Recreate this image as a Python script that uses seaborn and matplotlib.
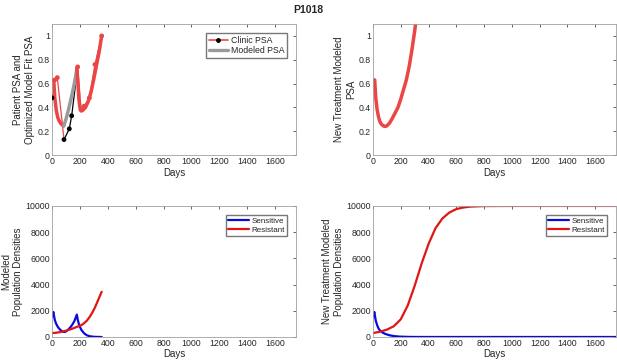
import numpy as np
import pandas as pd
import matplotlib
matplotlib.use('Agg')
import matplotlib.pyplot as plt
from matplotlib.lines import Line2D
import seaborn as sns

# Clinic PSA (treatment on = black, off = red)
clinic_days = [0, 19, 38, 86, 124, 141, 184, 208, 230, 268, 308, 356]
clinic_psa = [0.48, 0.63, 0.65, 0.13, 0.22, 0.33, 0.74, 0.38, 0.41, 0.48, 0.76, 1.00]
clinic_on = [1, 0, 0, 1, 1, 1, 0, 0, 0, 0, 0, 0]

# Modeled PSA, fitted
fit_gray0_days = [0, 4, 8]
fit_gray0_psa = [0.52, 0.56, 0.60]
fit_red1_days = [8, 12, 15, 20, 30, 40, 50, 60, 70, 84]
fit_red1_psa = [0.60, 0.63, 0.58, 0.48, 0.38, 0.32, 0.29, 0.27, 0.255, 0.245]
fit_gray_days = [84, 100, 120, 140, 160, 178]
fit_gray_psa = [0.245, 0.30, 0.39, 0.49, 0.60, 0.72]
fit_red2_days = [178, 185, 192, 200, 210, 220, 240, 260, 280, 300, 320, 340, 356]
fit_red2_psa = [0.73, 0.62, 0.48, 0.40, 0.37, 0.375, 0.40, 0.45, 0.53, 0.64, 0.76, 0.88, 1.00]

# New treatment modeled PSA
new_days = [0, 5, 12, 15, 20, 30, 40, 50, 60, 75, 85, 100, 120, 140, 160, 180, 200, 220,
            240, 260, 280, 300, 310]
new_psa = [0.55, 0.60, 0.63, 0.58, 0.48, 0.38, 0.32, 0.28, 0.26, 0.245, 0.24, 0.245, 0.27,
           0.31, 0.355, 0.40, 0.47, 0.55, 0.63, 0.74, 0.88, 1.04, 1.13]

# Modeled populations (fitted treatment)
pop_sens_days = [0, 5, 10, 13, 20, 30, 40, 50, 60, 70, 80, 90, 100, 120, 140, 160, 178, 185,
                 195, 210, 230, 250, 270, 300, 330, 356]
pop_sens = [1530, 1750, 1910, 1700, 1300, 1000, 800, 650, 540, 460, 400, 380, 420, 600, 850,
            1200, 1710, 1300, 900, 550, 280, 130, 60, 15, 3, 0]
pop_res_days = [0, 25, 50, 75, 100, 125, 150, 175, 190, 210, 230, 250, 270, 290, 310, 330, 356]
pop_res = [300, 320, 360, 410, 480, 560, 650, 760, 820, 900, 1050, 1250, 1530, 1880, 2300,
           2800, 3450]

# New treatment populations
new_sens_days = [0, 5, 10, 13, 20, 30, 40, 50, 70, 90, 120, 150, 190, 250, 300, 400, 1750]
new_sens = [1530, 1750, 1910, 1700, 1250, 900, 650, 500, 330, 230, 130, 70, 30, 8, 2, 0, 0]
new_res_days = [0, 50, 100, 150, 200, 250, 300, 350, 400, 450, 500, 550, 600, 650, 700, 800,
                1000, 1750]
new_res = [300, 400, 560, 820, 1350, 2400, 3900, 5600, 7100, 8300, 9050, 9500, 9760, 9880,
           9950, 9990, 10000, 10000]

xticks = [0, 200, 400, 600, 800, 1000, 1200, 1400, 1600]

sns.set_style("white")
plt.rcParams['font.family'] = ['Liberation Sans', 'DejaVu Sans']

RED_PSA = '#ec4545'
GRAY = '#9a9a9a'
BLUE = '#0a0ae0'
RED = '#e01515'

fig = plt.figure(figsize=(6.17, 3.64), dpi=100)
ax1 = fig.add_axes([0.0843, 0.574, 0.3955, 0.36])
ax2 = fig.add_axes([0.6045, 0.574, 0.394, 0.36])
ax3 = fig.add_axes([0.0843, 0.0742, 0.3955, 0.36])
ax4 = fig.add_axes([0.6045, 0.0742, 0.394, 0.36])


def seg(ax, x, y, color, lw):
    sns.lineplot(x=x, y=y, ax=ax, color=color, linewidth=lw, sort=False, estimator=None)


# Panel 1: clinic data and fit
for i in range(len(clinic_days) - 1):
    c = 'black' if clinic_on[i] else RED_PSA
    seg(ax1, clinic_days[i:i + 2], clinic_psa[i:i + 2], c, 0.9)
seg(ax1, fit_gray0_days, fit_gray0_psa, GRAY, 2.5)
seg(ax1, fit_red1_days, fit_red1_psa, RED_PSA, 2.5)
seg(ax1, fit_gray_days, fit_gray_psa, GRAY, 2.5)
seg(ax1, fit_red2_days, fit_red2_psa, RED_PSA, 2.5)
pts = pd.DataFrame({'d': clinic_days, 'p': clinic_psa,
                    'c': ['on' if v else 'off' for v in clinic_on]})
sns.scatterplot(data=pts, x='d', y='p', hue='c', palette={'on': 'black', 'off': RED_PSA},
                s=12, linewidth=0, ax=ax1, legend=False, zorder=5)
ax1.legend(handles=[Line2D([], [], color=RED_PSA, lw=1.2, marker='o', markersize=2.5,
                           markerfacecolor='black', markeredgecolor='black'),
                    Line2D([], [], color=GRAY, lw=2.4)],
           labels=['Clinic PSA', 'Modeled PSA'], loc='upper right', fontsize=6.3,
           frameon=True, fancybox=False, edgecolor='#555555', handlelength=2.2,
           borderpad=0.3, labelspacing=0.2, handletextpad=0.3,
           bbox_to_anchor=(0.98, 0.965))

# Panel 2
seg(ax2, new_days[:3], new_psa[:3], GRAY, 2.5)
seg(ax2, new_days[2:], new_psa[2:], RED_PSA, 2.5)

# Panel 3
seg(ax3, pop_sens_days, pop_sens, BLUE, 1.6)
seg(ax3, pop_res_days, pop_res, RED, 1.6)

# Panel 4
seg(ax4, new_sens_days, new_sens, BLUE, 1.6)
seg(ax4, new_res_days, new_res, RED, 1.6)

for ax in (ax3, ax4):
    ax.legend(handles=[Line2D([], [], color=BLUE, lw=1.6), Line2D([], [], color=RED, lw=1.6)],
              labels=['Sensitive', 'Resistant'], loc='upper right', fontsize=5.8,
              frameon=True, fancybox=False, edgecolor='#555555', handlelength=2.6,
              borderpad=0.3, labelspacing=0.2, handletextpad=0.3,
              bbox_to_anchor=(0.98, 0.965))

ylabels = ['Patient PSA and\nOptimized Model Fit PSA', 'New Treatment Modeled\nPSA',
           'Modeled\nPopulation Densities', 'New Treatment Modeled\nPopulation Densities']
for ax, yl in zip((ax1, ax2, ax3, ax4), ylabels):
    ax.set_xlim(0, 1750)
    ax.set_xticks(xticks)
    ax.set_xlabel('Days', fontsize=7, color='#262626', labelpad=1)
    ax.set_ylabel(yl, fontsize=7, color='#262626', labelpad=2)
    ax.tick_params(direction='in', top=True, right=True, length=2.5, width=0.5,
                   labelsize=6.3, colors='#262626', pad=1.5)
    for s in ax.spines.values():
        s.set_color('#a0a0a0')
        s.set_linewidth(0.6)

for ax in (ax1, ax2):
    ax.set_ylim(0, 1.1)
    ax.set_yticks([0, 0.2, 0.4, 0.6, 0.8, 1.0])
    ax.set_yticklabels(['0', '0.2', '0.4', '0.6', '0.8', '1'])
for ax in (ax3, ax4):
    ax.set_ylim(0, 10000)
    ax.set_yticks([0, 2000, 4000, 6000, 8000, 10000])

fig.text(0.5, 0.985, 'P1018', ha='center', va='top', fontsize=7.5, fontweight='bold')

fig.savefig('out.png', dpi=100)
